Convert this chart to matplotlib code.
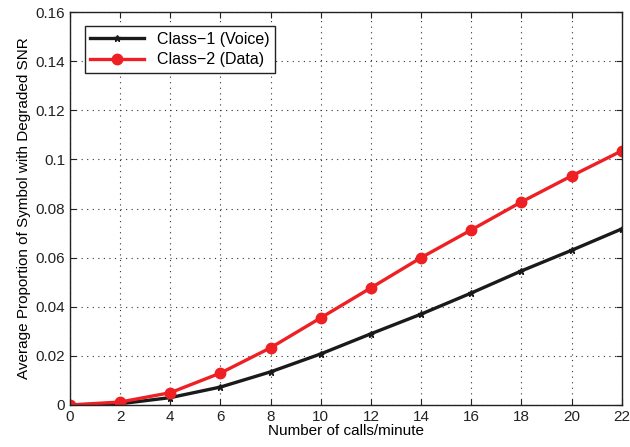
import matplotlib
matplotlib.use("Agg")
import matplotlib.pyplot as plt

x = [0, 2, 4, 6, 8, 10, 12, 14, 16, 18, 20, 22]
class1 = [0, 0.0005, 0.003, 0.0073, 0.0135, 0.0208, 0.029, 0.037, 0.0456, 0.0546, 0.063, 0.0717]
class2 = [0, 0.0012, 0.005, 0.013, 0.0233, 0.0355, 0.0477, 0.060, 0.0713, 0.0827, 0.0933, 0.1035]
xticks = [0, 2, 4, 6, 8, 10, 12, 14, 16, 18, 20, 22]
yticks = [0, 0.02, 0.04, 0.06, 0.08, 0.1, 0.12, 0.14, 0.16]
yticklabels = ["0", "0.02", "0.04", "0.06", "0.08", "0.1", "0.12", "0.14", "0.16"]

plt.rcParams['font.family'] = ['Liberation Sans', 'DejaVu Sans']
fig = plt.figure(figsize=(6.3, 4.47), dpi=100)
ax = fig.add_axes([0.111, 0.094, 0.876, 0.879])

ax.plot(x, class1, color='#1a1a1a', lw=2.4, marker='*', ms=5, label='Class\u22121 (Voice)')
ax.plot(x, class2, color='#ee2024', lw=2.4, marker='o', ms=7.5, mfc='#ee2024', mec='#ee2024', label='Class\u22122 (Data)')

ax.set_xlim(0, 22)
ax.set_ylim(0, 0.16)
ax.set_xticks(xticks)
ax.set_yticks(yticks)
ax.set_yticklabels(yticklabels)
ax.tick_params(direction='in', labelsize=11, top=True, right=True, length=4, colors='#222222')
ax.grid(True, linestyle=(0, (1, 4)), color='#333333', lw=0.8)
for s in ax.spines.values():
    s.set_linewidth(1.0)
    s.set_color('#222222')
ax.set_xlabel('Number of calls/minute', fontsize=11, labelpad=0)
ax.set_ylabel('Average Proportion of Symbol with Degraded SNR', fontsize=11, labelpad=3)
leg = ax.legend(loc='upper left', fontsize=11.5, fancybox=False, edgecolor='#222222',
                framealpha=1, borderpad=0.35, labelspacing=0.35, handlelength=3.4,
                bbox_to_anchor=(0.012, 0.985))
leg.get_frame().set_linewidth(1.0)
fig.savefig('out.png', dpi=100)
